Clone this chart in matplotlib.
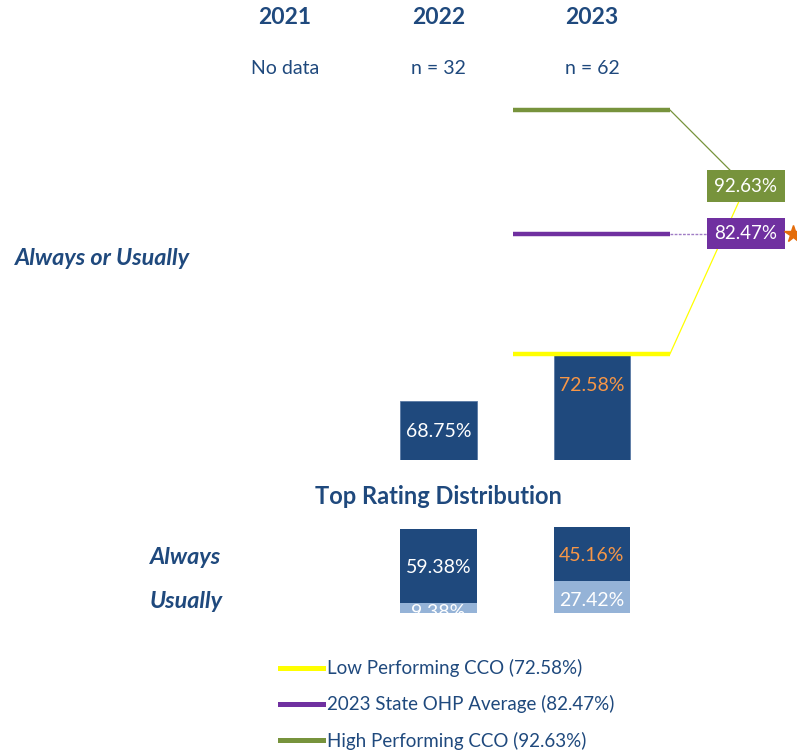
import matplotlib
matplotlib.use("Agg")
import matplotlib.pyplot as plt
from matplotlib.lines import Line2D
from matplotlib.transforms import blended_transform_factory

# ---- data ----
years = ["2021", "2022", "2023"]
n_labels = ["No data", "n = 32", "n = 62"]
always_usually = [None, 68.75, 72.58]
always = [None, 59.38, 45.16]
usually = [None, 9.38, 27.42]
value_colors = ["white", "white", "#F79646"]
bench_names = ["Low Performing CCO", "2023 State OHP Average", "High Performing CCO"]
bench_values = [72.58, 82.47, 92.63]
bench_colors = ["#FFFF00", "#7030A0", "#77933C"]

DARK = "#1F497D"
LIGHT = "#95B3D7"
TXT = "#1F497D"
FONT = ["Lato", "DejaVu Sans"]
plt.rcParams["font.family"] = FONT

W, H = 797, 751
fig = plt.figure(figsize=(W / 100, H / 100), dpi=100)


def fig_rect(top_px, bottom_px):
    return [0, 1 - bottom_px / H, 1, (bottom_px - top_px) / H]


x_lo, x_hi = -1.857, 3.336
xs = list(range(len(years)))
bw = 0.5
VFS = 14  # value label font size

# ---- top panel: Always or Usually ----
ax = fig.add_axes(fig_rect(90, 460))
ax.set_xlim(x_lo, x_hi)
ax.set_ylim(63.87, 94.27)
ax.axis("off")

for x, v, c in zip(xs, always_usually, value_colors):
    if v is None:
        continue
    ax.bar(x, v, width=bw, color=DARK, edgecolor="#5A7AA5", linewidth=0.6, zorder=2)
    ax.annotate(f"{v:.2f}%", (x, v), xytext=(0, -22.5), textcoords="offset points",
                ha="center", va="center", color=c, fontsize=VFS, zorder=3)

# benchmark lines across 2023 column
lx0, lx1 = 1.485, 2.508
lab_x = 3.003
green_lab_y = 86.38
for name, v, c in zip(bench_names, bench_values, bench_colors):
    ax.plot([lx0, lx1], [v, v], color=c, lw=3.2, solid_capstyle="butt", zorder=4)

# connectors (yellow and green lead to the green label; purple to its own)
ax.plot([lx1, lab_x], [bench_values[0], green_lab_y], color=bench_colors[0], lw=0.9, zorder=1)
ax.plot([lx1, lab_x], [bench_values[2], green_lab_y], color=bench_colors[2], lw=0.9, zorder=1)
ax.plot([lx1, lab_x], [bench_values[1], bench_values[1]], color="#A07CC5", lw=1.0,
        ls=(0, (2, 1)), zorder=1)

ax.text(lab_x, green_lab_y, f"{bench_values[2]:.2f}%", ha="center", va="center",
        color="white", fontsize=13.5, zorder=6,
        bbox=dict(boxstyle="square,pad=0.38", fc=bench_colors[2], ec="none"))
ax.text(lab_x, bench_values[1], f"{bench_values[1]:.2f}%", ha="center", va="center",
        color="white", fontsize=13.5, zorder=6,
        bbox=dict(boxstyle="square,pad=0.38", fc=bench_colors[1], ec="none"))
ax.plot([3.31], [bench_values[1]], marker="*", ms=13, color="#E46C0A", clip_on=False, zorder=7)

# headers
tr = blended_transform_factory(ax.transData, fig.transFigure)
for x, yr, nl in zip(xs, years, n_labels):
    ax.text(x, 1 - 18 / H, yr, transform=tr, ha="center", va="center",
            fontsize=16.5, fontweight="bold", color=TXT)
    ax.text(x, 1 - 68 / H, nl, transform=tr, ha="center", va="center",
            fontsize=14, color=TXT)

fig.text(15 / W, 1 - 258 / H, "Always or Usually", ha="left", va="center",
         fontsize=16.8, fontweight="bold", fontstyle="italic", color=TXT)
ax.text(1, 1 - 496 / H, "Top Rating Distribution", transform=tr, ha="center", va="center",
        fontsize=17, fontweight="bold", color=TXT)

# ---- bottom panel: distribution ----
ax2 = fig.add_axes(fig_rect(527, 613))
ax2.set_xlim(x_lo, x_hi)
y_top = 70.4
ax2.set_ylim(1.6, y_top)
ax2.axis("off")
for x, a, u, c in zip(xs, always, usually, value_colors):
    if a is None:
        continue
    ax2.bar(x, u, width=bw, color=LIGHT, zorder=2)
    ax2.bar(x, a, bottom=u, width=bw, color=DARK, zorder=2)
    ax2.text(x, (u + min(u + a, y_top)) / 2 - 1.2, f"{a:.2f}%", ha="center", va="center",
             color=c, fontsize=VFS, zorder=3, clip_on=True)
    ax2.text(x, u / 2 - 2.4, f"{u:.2f}%", ha="center", va="center", color="white",
             fontsize=VFS, zorder=3, clip_on=True)

fig.text(150 / W, 1 - 557 / H, "Always", ha="left", va="center",
         fontsize=16.8, fontweight="bold", fontstyle="italic", color=TXT)
fig.text(150 / W, 1 - 601 / H, "Usually", ha="left", va="center",
         fontsize=16.8, fontweight="bold", fontstyle="italic", color=TXT)

# ---- legend ----
handles = [Line2D([], [], color=c, lw=3.6) for c in bench_colors]
labels = [f"{n} ({v:.2f}%)" for n, v in zip(bench_names, bench_values)]
fig.legend(handles, labels, loc="upper left", bbox_to_anchor=(280 / W, 1 - 659 / H),
           frameon=False, borderpad=0, borderaxespad=0, handlelength=2.3,
           handletextpad=0.2, labelspacing=0.97, fontsize=13.5, labelcolor=TXT)

fig.savefig("out.png", dpi=100)
